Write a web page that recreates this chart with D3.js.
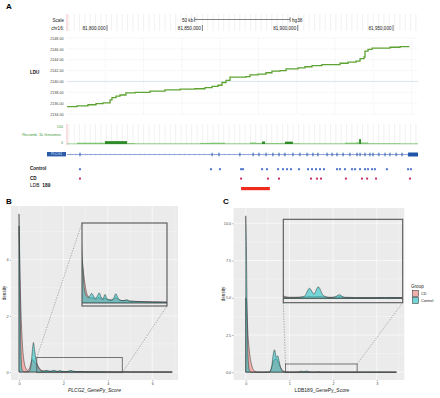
<!DOCTYPE html>
<html>
<head>
<meta charset="utf-8">
<script src="https://cdn.jsdelivr.net/npm/d3@7"></script>
<style>
  body { margin: 0; background: #fff; }
  svg { display: block; font-family: "Liberation Sans", Arial, Helvetica, sans-serif; }
</style>
</head>
<body>
<svg id="fig" width="440" height="398"></svg>
<script>
// ─── Panel A data (genome browser, chr16 hg38) ───────────────────────────────
const posTicks = [81800000, 81850000, 81900000, 81950000];
const scaleBarStart = 81846000;
const scaleBarLen = 50000;

const ldTicks = [2134, 2136, 2138, 2140, 2142, 2144, 2146, 2148];
const ldPos = [81779000, 81784200, 81790000, 81794200, 81797900, 81801600, 81802600, 81804700,
  81806800, 81809900, 81814700, 81822500, 81830400, 81838300, 81846100, 81851400, 81855100,
  81858200, 81860300, 81862400, 81864500, 81872900, 81875000, 81879200, 81883400, 81886500,
  81890700, 81893900, 81900200, 81903800, 81907500, 81912700, 81922200, 81926400, 81930600,
  81932700, 81934800, 81935300, 81936900, 81939000, 81948400, 81953700, 81958400];
const ldValue = [2135.35, 2135.5, 2135.7, 2135.9, 2136.05, 2136.6, 2137.0, 2137.3,
  2137.5, 2137.9, 2138.0, 2138.2, 2138.45, 2138.6, 2138.65, 2138.85, 2139.1,
  2139.3, 2139.8, 2140.2, 2140.8, 2140.9, 2141.2, 2141.35, 2141.6, 2141.9,
  2142.0, 2142.3, 2142.5, 2142.7, 2142.9, 2143.1, 2143.35, 2143.55, 2143.75,
  2144.2, 2144.5, 2145.6, 2145.9, 2146.15, 2146.3, 2146.4, 2146.45];

const recStart = [81779000, 81784200, 81798900, 81810500, 81814700, 81848800, 81854000,
  81861900, 81875000, 81878100, 81881300, 81882900, 81893300, 81897500, 81901200,
  81924800, 81930600, 81932200, 81933200, 81936900, 81953700];
const recRate = [2, 7, 16, 5, 3, 6, 7, 3, 8, 6, 14, 5, 13, 4, 3, 7, 9, 27, 8, 4, 3];
const recEnd = 81963100;

const exonPos = [81785800, 81855100, 81858700, 81869700, 81876600, 81879700, 81883400,
  81887000, 81890200, 81893300, 81897500, 81901200, 81904900, 81908000, 81910600,
  81915400, 81918000, 81920600, 81923800, 81927400, 81931100, 81932700, 81935300,
  81937900, 81939500, 81942600, 81945800, 81948400, 81951600, 81954700];
const utr = [81957900, 81963100];

const controlVariants = [81785800, 81854500, 81859200, 81870300, 81871300, 81881300, 81883900,
  81889700, 81892300, 81894400, 81896500, 81900700, 81905400, 81907500, 81909600, 81911700,
  81913800, 81920600, 81922200, 81924800, 81928500, 81930100, 81932700, 81935300, 81936900,
  81939000, 81940500, 81946800, 81957900, 81959400];
const cdVariants = [81785800, 81870300, 81884400, 81890200, 81907000, 81910100, 81912200,
  81925300, 81933700, 81936400, 81941100, 81958900];
const ldbBlock = [81870300, 81885400];

// ─── Panel B data (PLCG2 GenePy density) ─────────────────────────────────────
const scoreB = [0, 0.02, 0.05, 0.08, 0.1, 0.13, 0.16, 0.2, 0.25, 0.3, 0.35, 0.4, 0.45, 0.5, 0.55,
  0.6, 0.65, 0.7, 0.75, 0.8, 0.85, 0.9, 1.0, 1.1, 1.17, 1.24, 1.32, 1.4, 1.5, 1.58, 1.66, 1.75,
  1.84, 1.93, 2.05, 2.15, 2.25, 2.33, 2.42, 2.55, 2.7, 2.82, 2.95, 3.2, 3.6, 4.0, 4.5, 5.0, 5.5,
  6.0, 6.5, 6.9];
const cdB = [5.2, 4.4, 3.3, 2.4, 1.9, 1.35, 0.9, 0.55, 0.28, 0.15, 0.08, 0.06, 0.1, 0.2, 0.35,
  0.45, 0.4, 0.35, 0.32, 0.28, 0.22, 0.16, 0.07, 0.04, 0.03, 0.035, 0.03, 0.025, 0.03, 0.035,
  0.028, 0.022, 0.03, 0.022, 0.018, 0.018, 0.025, 0.035, 0.025, 0.015, 0.015, 0.018, 0.012,
  0.01, 0.008, 0.007, 0.006, 0.005, 0.004, 0.003, 0.003, 0.002];
const controlB = [5.63, 4.8, 2.6, 1.0, 0.45, 0.12, 0.04, 0.02, 0.01, 0.01, 0.01, 0.02, 0.03, 0.08,
  0.3, 0.75, 1.05, 0.8, 0.5, 0.33, 0.2, 0.1, 0.045, 0.035, 0.05, 0.062, 0.045, 0.03, 0.045,
  0.065, 0.04, 0.025, 0.055, 0.028, 0.02, 0.02, 0.035, 0.06, 0.035, 0.018, 0.015, 0.02, 0.012,
  0.01, 0.008, 0.006, 0.005, 0.004, 0.003, 0.003, 0.002, 0.002];

// ─── Panel C data (LDB189 GenePy density) ────────────────────────────────────
const scoreC = [0, 0.015, 0.03, 0.05, 0.08, 0.1, 0.13, 0.16, 0.2, 0.25, 0.3, 0.4, 0.5, 0.55,
  0.6, 0.63, 0.66, 0.7, 0.73, 0.76, 0.8, 0.85, 0.9, 1.0, 1.1, 1.2, 1.27, 1.33, 1.39, 1.46,
  1.55, 1.62, 1.68, 1.75, 1.9, 2.1, 2.3, 2.5, 2.7, 3.0, 3.2, 3.45];
const cdC = [5.0, 4.9, 4.0, 2.6, 1.5, 1.0, 0.55, 0.25, 0.08, 0.02, 0.005, 0.003, 0.01, 0.05,
  0.35, 0.7, 0.85, 0.9, 0.75, 0.55, 0.3, 0.1, 0.02, 0.008, 0.008, 0.008, 0.012, 0.01, 0.012,
  0.01, 0.008, 0.008, 0.01, 0.008, 0.006, 0.006, 0.005, 0.006, 0.005, 0.005, 0.004, 0.004];
const controlC = [10.5, 8.5, 4.5, 1.2, 0.15, 0.03, 0.005, 0.002, 0.002, 0.002, 0.002, 0.002,
  0.005, 0.02, 0.5, 1.2, 1.5, 1.0, 1.1, 0.8, 0.3, 0.05, 0.01, 0.004, 0.006, 0.015, 0.07, 0.03,
  0.08, 0.02, 0.005, 0.01, 0.025, 0.006, 0.004, 0.004, 0.006, 0.005, 0.004, 0.004, 0.003, 0.003];

const groups = ['CD', 'Control'];
const groupColor = { CD: '#F8766D', Control: '#00BFC4' };

// ─── Setup ───────────────────────────────────────────────────────────────────
const svg = d3.select('#fig');
svg.append('rect').attr('width', 440).attr('height', 398).attr('fill', '#fff');

const gx = d3.scaleLinear().domain([81779000, 81963100]).range([67, 418]);
const [gx0, gx1] = gx.range();

function panelLabel(txt, x, y) {
  svg.append('text').attr('x', x).attr('y', y)
    .attr('font-size', 8).attr('font-weight', 'bold').attr('fill', '#000').text(txt);
}
panelLabel('A', 6, 9);
panelLabel('B', 6, 204);
panelLabel('C', 223, 204);

// ─── A: ruler header ─────────────────────────────────────────────────────────
const hdr = svg.append('g');
const guides = d3.range(81780000, recEnd, 2800);
[[14, 31], [124, 145]].forEach(([a, b]) => {
  hdr.append('g').selectAll('line').data(guides).join('line')
    .attr('x1', d => gx(d)).attr('x2', d => gx(d)).attr('y1', a).attr('y2', b)
    .attr('stroke', '#e3e3e3').attr('stroke-width', 0.5);
  hdr.append('line').attr('x1', gx0).attr('x2', gx0).attr('y1', a).attr('y2', b)
    .attr('stroke', '#f3a0a8').attr('stroke-width', 0.7);
});

hdr.append('text').attr('x', 64).attr('y', 21.5).attr('text-anchor', 'end')
  .attr('font-size', 4.6).attr('fill', '#222').text('Scale');
hdr.append('text').attr('x', 64).attr('y', 30).attr('text-anchor', 'end')
  .attr('font-size', 4.6).attr('fill', '#222').text('chr16:');

const sb0 = gx(scaleBarStart), sb1 = gx(scaleBarStart + scaleBarLen);
hdr.append('line').attr('x1', sb0).attr('x2', sb1).attr('y1', 19.5).attr('y2', 19.5)
  .attr('stroke', '#333').attr('stroke-width', 0.6);
[sb0, sb1].forEach(x => hdr.append('line').attr('x1', x).attr('x2', x)
  .attr('y1', 17).attr('y2', 22).attr('stroke', '#333').attr('stroke-width', 0.6));
hdr.append('text').attr('x', sb0 - 1.5).attr('y', 21.5).attr('text-anchor', 'end')
  .attr('font-size', 4.6).attr('fill', '#222').text('50 kb');
hdr.append('text').attr('x', sb1 + 2).attr('y', 21.5)
  .attr('font-size', 4.6).attr('fill', '#222').text('hg38');

const pt = hdr.selectAll('g.pos').data(posTicks).join('g')
  .attr('class', 'pos').attr('transform', d => `translate(${gx(d)},0)`);
pt.append('line').attr('y1', 25).attr('y2', 31).attr('stroke', '#333').attr('stroke-width', 0.6);
pt.append('text').attr('x', -1.5).attr('y', 30).attr('text-anchor', 'end')
  .attr('font-size', 4.6).attr('fill', '#222').text(d => d3.format(',')(d));

// ─── A: LDU track ────────────────────────────────────────────────────────────
const ldY = d3.scaleLinear().domain([2134, 2148]).range([114, 38]);
const ld = svg.append('g');

ld.selectAll('line.h').data(ldTicks).join('line')
  .attr('x1', gx0).attr('x2', gx1).attr('y1', d => ldY(d)).attr('y2', d => ldY(d))
  .attr('stroke', d => d === 2140 ? '#cdd8ea' : '#e2e2e2')
  .attr('stroke-width', d => d === 2140 ? 0.7 : 0.5)
  .attr('stroke-dasharray', d => d === 2140 ? null : '1,1');
ld.selectAll('line.v').data(d3.range(81799000, recEnd, 20100)).join('line')
  .attr('x1', d => gx(d)).attr('x2', d => gx(d)).attr('y1', ldY(2148)).attr('y2', ldY(2134))
  .attr('stroke', '#e2e2e2').attr('stroke-width', 0.5).attr('stroke-dasharray', '1,1');

ld.append('g').attr('transform', `translate(${gx0},0)`)
  .call(d3.axisLeft(ldY).tickValues(ldTicks).tickSize(0).tickPadding(3.5).tickFormat(d3.format('.2f')))
  .call(sel => {
    sel.select('.domain').remove();
    sel.selectAll('text').attr('fill', '#444').style('font-size', '3.7px')
      .style('font-family', '"Liberation Sans", Arial, sans-serif');
  });
svg.append('text').attr('x', 30).attr('y', 74).attr('font-size', 4.6)
  .attr('font-weight', 'bold').attr('fill', '#111').text('LDU');

const ldLine = d3.line().x((d, i) => gx(ldPos[i])).y(d => ldY(d)).curve(d3.curveStepAfter);
ld.append('path').datum(ldValue).attr('d', ldLine)
  .attr('fill', 'none').attr('stroke', '#5ea332').attr('stroke-width', 1.3);

// ─── A: recombination track ──────────────────────────────────────────────────
const recY = d3.scaleLinear().domain([0, 100]).range([144, 126]);
const rec = svg.append('g');
rec.append('line').attr('x1', gx0).attr('x2', gx1).attr('y1', recY(0)).attr('y2', recY(0))
  .attr('stroke', '#9fd29a').attr('stroke-width', 0.6);
rec.selectAll('rect').data(recRate).join('rect')
  .attr('x', (d, i) => gx(recStart[i]))
  .attr('width', (d, i) => Math.max(0.6, gx(i + 1 < recStart.length ? recStart[i + 1] : recEnd) - gx(recStart[i])))
  .attr('y', d => recY(d)).attr('height', d => recY(0) - recY(d))
  .attr('fill', d => d >= 12 ? '#2f8a2a' : '#7cc46f');
rec.append('text').attr('x', 63).attr('y', 127.5).attr('text-anchor', 'end')
  .attr('font-size', 3.7).attr('fill', '#3f9a3a').text('100');
rec.append('text').attr('x', 63).attr('y', 144).attr('text-anchor', 'end')
  .attr('font-size', 3.7).attr('fill', '#3f9a3a').text('0');
rec.append('text').attr('x', 61).attr('y', 135.5).attr('text-anchor', 'end')
  .attr('font-size', 3.9).attr('fill', '#3f9a3a').text('Recomb. 1k Genomes');

// ─── A: gene model ───────────────────────────────────────────────────────────
const gene = svg.append('g');
const gy = 154.5;
gene.append('line').attr('x1', gx0).attr('x2', gx(utr[1])).attr('y1', gy).attr('y2', gy)
  .attr('stroke', '#4a6fc0').attr('stroke-width', 0.6);
gene.selectAll('path.chev').data(d3.range(81781000, utr[0], 2600)).join('path')
  .attr('d', d => `M${gx(d) - 0.6},${gy - 0.9}L${gx(d) + 0.4},${gy}L${gx(d) - 0.6},${gy + 0.9}`)
  .attr('fill', 'none').attr('stroke', '#7d97d6').attr('stroke-width', 0.4);
gene.selectAll('rect.exon').data(exonPos).join('rect')
  .attr('x', d => gx(d) - 0.5).attr('width', 1).attr('y', gy - 1.8).attr('height', 3.6)
  .attr('fill', '#2d5bb0');
gene.append('rect').attr('x', gx(utr[0])).attr('width', gx(utr[1]) - gx(utr[0]))
  .attr('y', gy - 2).attr('height', 4).attr('fill', '#1f55a8');
gene.append('rect').attr('x', 47).attr('y', 152).attr('width', 19).attr('height', 4.4)
  .attr('fill', '#2a5aa8');
gene.append('text').attr('x', 56.5).attr('y', 155.4).attr('text-anchor', 'middle')
  .attr('font-size', 3.4).attr('fill', '#dfe8ff').text('PLCG2');

// ─── A: variant rows ─────────────────────────────────────────────────────────
const rows = svg.append('g');
rows.append('text').attr('x', 30).attr('y', 170).attr('font-size', 4.6)
  .attr('font-weight', 'bold').attr('fill', '#111').text('Control');
rows.append('text').attr('x', 30).attr('y', 179.5).attr('font-size', 4.6)
  .attr('font-weight', 'bold').attr('fill', '#111').text('CD');
const ldbLab = rows.append('text').attr('x', 30).attr('y', 187).attr('font-size', 4.8).attr('fill', '#111');
ldbLab.append('tspan').text('LDB');
ldbLab.append('tspan').attr('dx', 3).attr('font-weight', 'bold').text('189');

rows.selectAll('rect.ctl').data(controlVariants).join('rect')
  .attr('x', d => gx(d) - 1).attr('y', 168.2).attr('width', 2).attr('height', 2)
  .attr('fill', '#4f74cc');
rows.selectAll('rect.cd').data(cdVariants).join('rect')
  .attr('x', d => gx(d) - 1).attr('y', 177.6).attr('width', 2).attr('height', 2)
  .attr('fill', '#c8325e');
rows.append('rect').attr('x', gx(ldbBlock[0])).attr('width', gx(ldbBlock[1]) - gx(ldbBlock[0]))
  .attr('y', 187).attr('height', 3.2).attr('fill', '#ee2b1f');

// ─── B / C: density panels with magnified insets ─────────────────────────────
let clipN = 0;
function clipRect(g, x0, y0, x1, y1) {
  const id = `clip${clipN++}`;
  g.append('clipPath').attr('id', id).append('rect')
    .attr('x', x0).attr('y', y0).attr('width', x1 - x0).attr('height', y1 - y0);
  return `url(#${id})`;
}

function drawCurves(g, x, y, score, series) {
  series.forEach(s => {
    const area = d3.area()
      .x((d, i) => x(score[i])).y0(y(0)).y1(d => y(d))
      .curve(d3.curveMonotoneX);
    g.append('path').datum(s.values).attr('d', area)
      .attr('fill', groupColor[s.name]).attr('fill-opacity', 0.5)
      .attr('stroke', '#2b2b2b').attr('stroke-width', 0.5).attr('stroke-linejoin', 'round');
  });
}

function densityPanel(cfg) {
  const [bx0, by0, bx1, by1] = cfg.box;
  const g = svg.append('g');
  const x = d3.scaleLinear().domain(cfg.xDomain).range([bx0, bx1]);
  const y = d3.scaleLinear().domain(cfg.yDomain).range([by1, by0]);

  g.append('rect').attr('x', bx0).attr('y', by0).attr('width', bx1 - bx0).attr('height', by1 - by0)
    .attr('fill', '#ebebeb');
  const grid = (vals, vert, w) => g.append('g').selectAll('line').data(vals).join('line')
    .attr('x1', d => vert ? x(d) : bx0).attr('x2', d => vert ? x(d) : bx1)
    .attr('y1', d => vert ? by0 : y(d)).attr('y2', d => vert ? by1 : y(d))
    .attr('stroke', '#fff').attr('stroke-width', w);
  grid(cfg.xMinor, true, 0.3);
  grid(cfg.yMinor, false, 0.3);
  grid(cfg.xTicks, true, 0.6);
  grid(cfg.yTicks, false, 0.6);

  const main = g.append('g').attr('clip-path', clipRect(g, bx0, by0, bx1, by1));
  drawCurves(main, x, y, cfg.score, cfg.series);

  // axes
  g.append('g').attr('transform', `translate(0,${by1})`)
    .call(d3.axisBottom(x).tickValues(cfg.xTicks).tickSize(1.3).tickPadding(1.2).tickFormat(d3.format('d')))
    .call(sel => {
      sel.select('.domain').remove();
      sel.selectAll('line').attr('stroke', '#333').attr('stroke-width', 0.4);
      sel.selectAll('text').attr('fill', '#4d4d4d').style('font-size', '3.8px')
        .style('font-family', '"Liberation Sans", Arial, sans-serif');
    });
  g.append('g').attr('transform', `translate(${bx0},0)`)
    .call(d3.axisLeft(y).tickValues(cfg.yTicks).tickSize(1.3).tickPadding(1).tickFormat(cfg.yFormat))
    .call(sel => {
      sel.select('.domain').remove();
      sel.selectAll('line').attr('stroke', '#333').attr('stroke-width', 0.4);
      sel.selectAll('text').attr('fill', '#4d4d4d').style('font-size', '3.8px')
        .style('font-family', '"Liberation Sans", Arial, sans-serif');
    });
  g.append('text').attr('x', cfg.xTitleX).attr('y', 392).attr('text-anchor', 'middle')
    .attr('font-size', 5).attr('fill', '#222').attr('font-style', cfg.italic ? 'italic' : null)
    .text(cfg.xTitle);
  g.append('text').attr('transform', `translate(${cfg.yTitleX},${(by0 + by1) / 2}) rotate(-90)`)
    .attr('text-anchor', 'middle').attr('font-size', 4.6).attr('fill', '#222').text('density');

  // magnified region
  const z = cfg.zoom;
  const sx0 = x(z.xDomain[0]), sx1 = x(z.xDomain[1]);
  const sy0 = y(z.yDomain[1]), sy1 = y(z.yDomain[0]);
  const [ix0, iy0, ix1, iy1] = z.box;
  const corner = { tl: [[sx0, sy0], [ix0, iy0]], br: [[sx1, sy1], [ix1, iy1]],
    tlbl: [[sx0, sy0], [ix0, iy1]], trbr: [[sx1, sy0], [ix1, iy1]] };
  g.append('g').selectAll('line').data(z.links.map(k => corner[k])).join('line')
    .attr('x1', d => d[0][0]).attr('y1', d => d[0][1]).attr('x2', d => d[1][0]).attr('y2', d => d[1][1])
    .attr('stroke', '#666').attr('stroke-width', 0.5).attr('stroke-dasharray', '1.3,1.3');
  g.append('rect').attr('x', sx0).attr('y', sy0).attr('width', sx1 - sx0).attr('height', sy1 - sy0)
    .attr('fill', 'none').attr('stroke', '#555').attr('stroke-width', 0.8);

  const zx = d3.scaleLinear().domain(z.xDomain).range([ix0, ix1]);
  const zy = d3.scaleLinear().domain(z.yDomain).range([iy1, iy0]);
  const inset = g.append('g').attr('clip-path', clipRect(g, ix0, iy0, ix1, iy1));
  drawCurves(inset, zx, zy, cfg.score, cfg.series);
  g.append('rect').attr('x', ix0).attr('y', iy0).attr('width', ix1 - ix0).attr('height', iy1 - iy0)
    .attr('fill', 'none').attr('stroke', '#555').attr('stroke-width', 1.1);
  return g;
}

densityPanel({
  box: [11, 206, 178, 380],
  xDomain: [-0.36, 7.16], yDomain: [-0.2815, 5.9115],
  xTicks: [0, 2, 4, 6], xMinor: [1, 3, 5, 7],
  yTicks: [0, 2, 4], yMinor: [1, 3, 5],
  yFormat: d3.format('d'),
  score: scoreB,
  series: [{ name: 'CD', values: cdB }, { name: 'Control', values: controlB }],
  xTitle: 'PLCG2_GenePy_Score', italic: true, xTitleX: 94.5, yTitleX: 5.5,
  zoom: { xDomain: [0.8, 4.65], yDomain: [-0.02, 0.52], box: [82, 223, 167, 306], links: ['tl', 'br'] }
});

const cPanel = densityPanel({
  box: [233.5, 208, 404.3, 380],
  xDomain: [-0.28, 3.63], yDomain: [-0.525, 11.025],
  xTicks: [0, 1, 2, 3], xMinor: [0.5, 1.5, 2.5, 3.5],
  yTicks: [0, 2.5, 5, 7.5, 10], yMinor: [1.25, 3.75, 6.25, 8.75],
  yFormat: d3.format('.1f'),
  score: scoreC,
  series: [{ name: 'CD', values: cdC }, { name: 'Control', values: controlC }],
  xTitle: 'LDB189_GenePy_Score', italic: false, xTitleX: 322, yTitleX: 224.5,
  zoom: { xDomain: [0.91, 2.55], yDomain: [-0.03, 0.55], box: [283.3, 219.3, 402.7, 302.7], links: ['tlbl', 'trbr'] }
});

// legend
const leg = svg.append('g').attr('transform', 'translate(411,0)');
leg.append('text').attr('x', 0).attr('y', 287.5).attr('font-size', 4.6).attr('fill', '#222').text('Group');
const li = leg.selectAll('g.item').data(groups).join('g')
  .attr('transform', (d, i) => `translate(1,${290 + i * 7})`);
li.append('rect').attr('width', 7).attr('height', 7).attr('fill', '#ebebeb');
li.append('rect').attr('x', 0.6).attr('y', 0.6).attr('width', 5.8).attr('height', 5.8)
  .attr('fill', d => groupColor[d]).attr('fill-opacity', 0.5)
  .attr('stroke', '#2b2b2b').attr('stroke-width', 0.5);
li.append('text').attr('x', 9).attr('y', 4.9).attr('font-size', 3.8).attr('fill', '#222').text(d => d);
</script>
</body>
</html>
